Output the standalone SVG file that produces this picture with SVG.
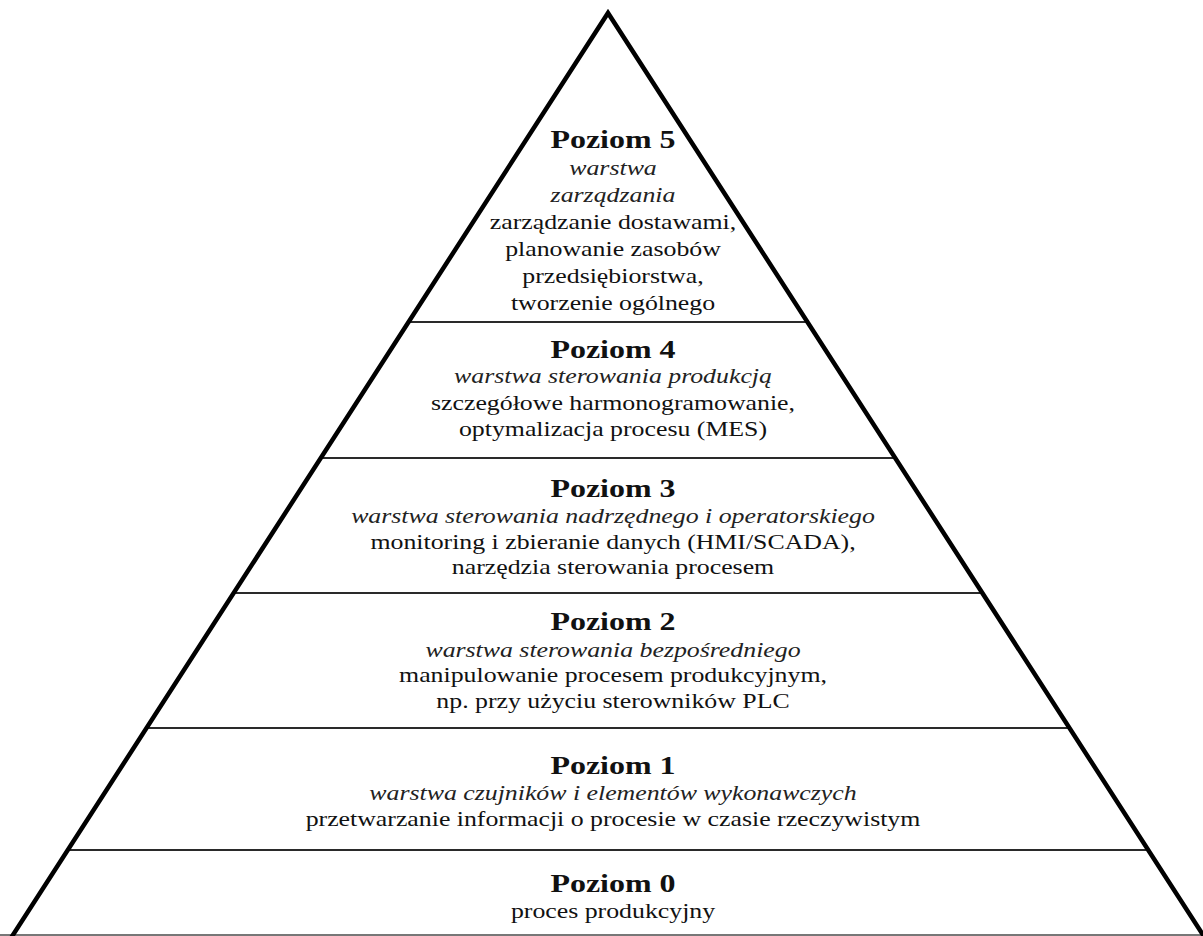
<svg xmlns="http://www.w3.org/2000/svg" width="1203" height="936" viewBox="0 0 1203 936">
  <style>
    text { font-family: "Liberation Serif", "Times New Roman", serif; text-anchor: middle; fill: #111; }
    .title { font-weight: bold; font-size: 26px; }
    .sub { font-style: italic; font-size: 21px; fill: #222; }
    .desc { font-size: 21px; }
    .sep { stroke: #2a2a2a; stroke-width: 2; fill: none; }
    .base { stroke: #777; stroke-width: 2; fill: none; }
    .side { stroke: #000; stroke-width: 4.5; fill: none; stroke-linejoin: miter; stroke-miterlimit: 10; }
  </style>
  <rect width="1203" height="936" fill="#fff"/>

  <!-- level separators -->
  <g id="separators">
    <line class="sep" x1="408.5" y1="322" x2="807.5" y2="322"/>
    <line class="sep" x1="320.7" y1="458" x2="895.3" y2="458"/>
    <line class="sep" x1="233.5" y1="593" x2="982.5" y2="593"/>
    <line class="sep" x1="146.3" y1="728" x2="1069.7" y2="728"/>
    <line class="sep" x1="67.6" y1="850" x2="1148.4" y2="850"/>
    <line class="base" x1="0" y1="935" x2="1203" y2="935"/>
  </g>

  <!-- pyramid outline -->
  <polyline id="pyramid" class="side" points="9.7,940 608,13 1206.3,940"/>

  <g id="poziom-5" transform="translate(613 0) scale(1.23 1)">
    <text class="title" x="0" y="148">Poziom 5</text>
    <text class="sub" x="0" y="175">warstwa</text>
    <text class="sub" x="0" y="202">zarządzania</text>
    <text class="desc" x="0" y="229">zarządzanie dostawami,</text>
    <text class="desc" x="0" y="256">planowanie zasobów</text>
    <text class="desc" x="0" y="283">przedsiębiorstwa,</text>
    <text class="desc" x="0" y="310">tworzenie ogólnego</text>
  </g>

  <g id="poziom-4" transform="translate(613 0) scale(1.23 1)">
    <text class="title" x="0" y="358">Poziom 4</text>
    <text class="sub" x="0" y="383">warstwa sterowania produkcją</text>
    <text class="desc" x="0" y="410">szczegółowe harmonogramowanie,</text>
    <text class="desc" x="0" y="436">optymalizacja procesu (MES)</text>
  </g>

  <g id="poziom-3" transform="translate(613 0) scale(1.23 1)">
    <text class="title" x="0" y="497">Poziom 3</text>
    <text class="sub" x="0" y="523">warstwa sterowania nadrzędnego i operatorskiego</text>
    <text class="desc" x="0" y="549">monitoring i zbieranie danych (HMI/SCADA),</text>
    <text class="desc" x="0" y="574">narzędzia sterowania procesem</text>
  </g>

  <g id="poziom-2" transform="translate(613 0) scale(1.23 1)">
    <text class="title" x="0" y="630">Poziom 2</text>
    <text class="sub" x="0" y="657">warstwa sterowania bezpośredniego</text>
    <text class="desc" x="0" y="682">manipulowanie procesem produkcyjnym,</text>
    <text class="desc" x="0" y="708">np. przy użyciu sterowników PLC</text>
  </g>

  <g id="poziom-1" transform="translate(613 0) scale(1.23 1)">
    <text class="title" x="0" y="774">Poziom 1</text>
    <text class="sub" x="0" y="800">warstwa czujników i elementów wykonawczych</text>
    <text class="desc" x="0" y="826">przetwarzanie informacji o procesie w czasie rzeczywistym</text>
  </g>

  <g id="poziom-0" transform="translate(613 0) scale(1.23 1)">
    <text class="title" x="0" y="892">Poziom 0</text>
    <text class="desc" x="0" y="918">proces produkcyjny</text>
  </g>
</svg>
